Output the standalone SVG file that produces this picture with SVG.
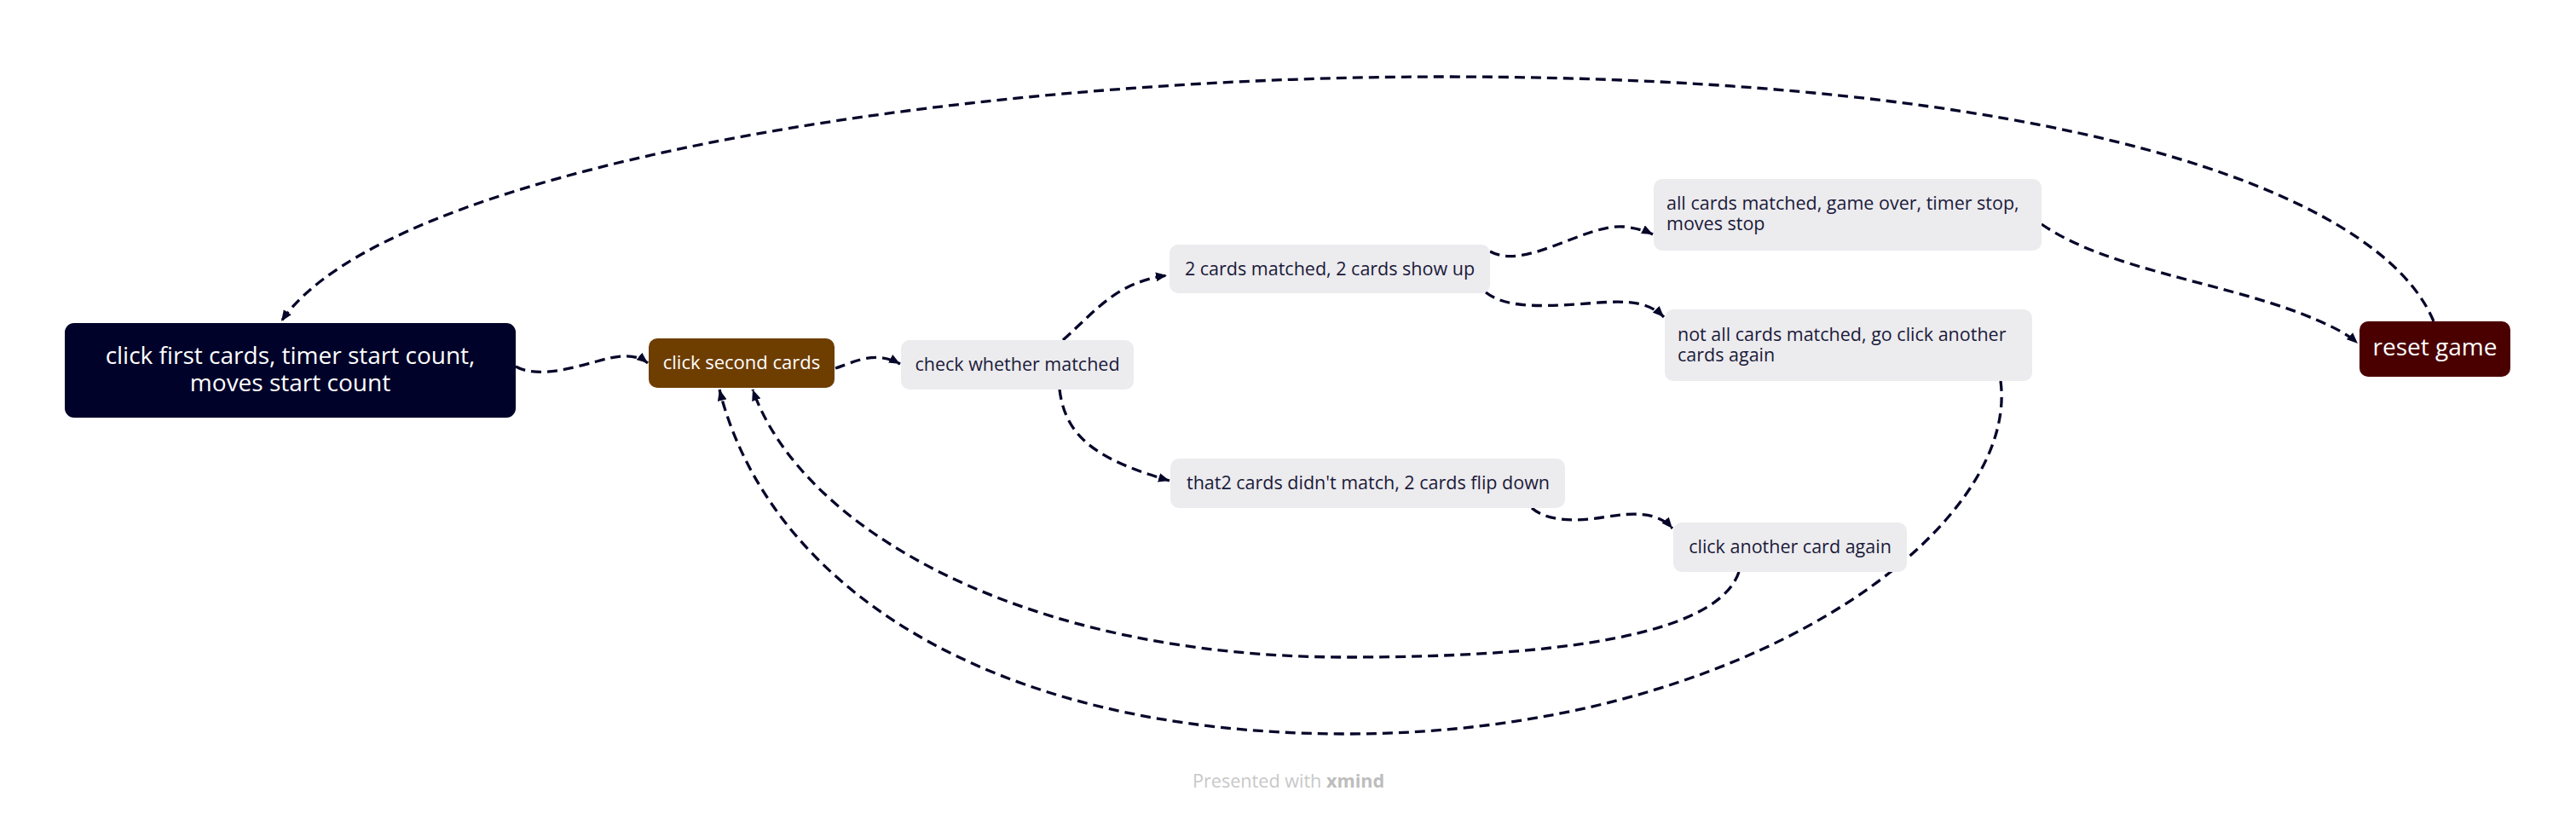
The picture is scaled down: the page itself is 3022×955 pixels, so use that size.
<svg xmlns="http://www.w3.org/2000/svg" width="3022" height="955" viewBox="0 0 3022 955">
<style>
.conn{fill:none;stroke:#06062a;stroke-width:3.3;stroke-dasharray:12 7;marker-end:url(#arr)}
.light{fill:#ECEBEE}
.t{font-family:"Open Sans","Liberation Sans",sans-serif}
.dk{fill:#1A1A3A;font-size:21.5px}
.wh{fill:#FFFFFF}
</style>
<defs>
<marker id="arr" markerUnits="userSpaceOnUse" viewBox="0 0 12 10" markerWidth="13" markerHeight="11" refX="12" refY="5" orient="auto">
<path d="M0,0 L12,5 L0,10 z" fill="#06062a"/>
</marker>
</defs>
<rect width="3022" height="955" fill="#FFFFFF"/>
<g id="connectors">
<path class="conn" d="M605,430 C630,444 670,432 700,424 C725,417 745,414 760,426"/>
<path class="conn" d="M980,432 C1000,426 1025,410 1056,427"/>
<path class="conn" d="M1247,399 C1290,360 1310,332 1369,323"/>
<path class="conn" d="M1243,457 C1250,515 1290,540 1372,564"/>
<path class="conn" d="M1748,295 C1790,318 1860,262 1905,266 Q1925,268 1939,275"/>
<path class="conn" d="M1743,343 C1765,360 1800,360 1850,357 C1900,353 1930,350 1952,372"/>
<path class="conn" d="M2395,263 C2470,315 2600,330 2700,368 C2730,380 2752,390 2766,403"/>
<path class="conn" d="M2855,377 C2790,220 2400,90 1696,90 C1100,90 450,200 330,377"/>
<path class="conn" d="M1797,596 C1815,612 1850,612 1880,607 C1915,601 1945,600 1962,620"/>
<path class="conn" d="M2040,671 C2010,760 1750,771 1580,771 C1200,771 940,620 883,457"/>
<path class="conn" d="M2347,447 C2370,620 2050,861 1580,861 C1150,861 900,680 844,457"/>
</g>
<g id="node-first">
<rect x="76" y="379" width="529" height="111" rx="11" fill="#000229"/>
<text class="t wh" x="340.5" y="427" font-size="28" font-weight="500" text-anchor="middle">click first cards, timer start count,</text>
<text class="t wh" x="340.5" y="459" font-size="28" font-weight="500" text-anchor="middle">moves start count</text>
</g>
<g id="node-second">
<rect x="761" y="397" width="218" height="58" rx="10" fill="#6E3D00"/>
<text class="t wh" x="870" y="433" font-size="22" font-weight="500" text-anchor="middle">click second cards</text>
</g>
<g id="node-check">
<rect class="light" x="1057" y="399" width="273" height="58" rx="10"/>
<text class="t dk" x="1193.5" y="435" text-anchor="middle">check whether matched</text>
</g>
<g id="node-matched">
<rect class="light" x="1372" y="287" width="376" height="57" rx="10"/>
<text class="t dk" x="1560" y="322.5" text-anchor="middle">2 cards matched, 2 cards show up</text>
</g>
<g id="node-nomatch">
<rect class="light" x="1373" y="538" width="463" height="58" rx="10"/>
<text class="t dk" x="1605" y="574" text-anchor="middle">that2 cards didn't match, 2 cards flip down</text>
</g>
<g id="node-allmatched">
<rect class="light" x="1940" y="210" width="455" height="84" rx="10"/>
<text class="t dk" x="1955" y="246">all cards matched, game over, timer stop,</text>
<text class="t dk" x="1955" y="270">moves stop</text>
</g>
<g id="node-notall">
<rect class="light" x="1953" y="363" width="431" height="84" rx="10"/>
<text class="t dk" x="1968" y="400">not all cards matched, go click another</text>
<text class="t dk" x="1968" y="424">cards again</text>
</g>
<g id="node-another">
<rect class="light" x="1963" y="613" width="274" height="58" rx="10"/>
<text class="t dk" x="2100" y="649" text-anchor="middle">click another card again</text>
</g>
<g id="node-reset">
<rect x="2768" y="377" width="177" height="65" rx="10" fill="#4B0000"/>
<text class="t wh" x="2856.5" y="417" font-size="28" font-weight="500" text-anchor="middle">reset game</text>
</g>
<text class="t" x="1399" y="924" font-size="21.6" fill="#C8C8C8">Presented with <tspan font-weight="bold" fill="#BDBDBD">xmind</tspan></text>
</svg>
